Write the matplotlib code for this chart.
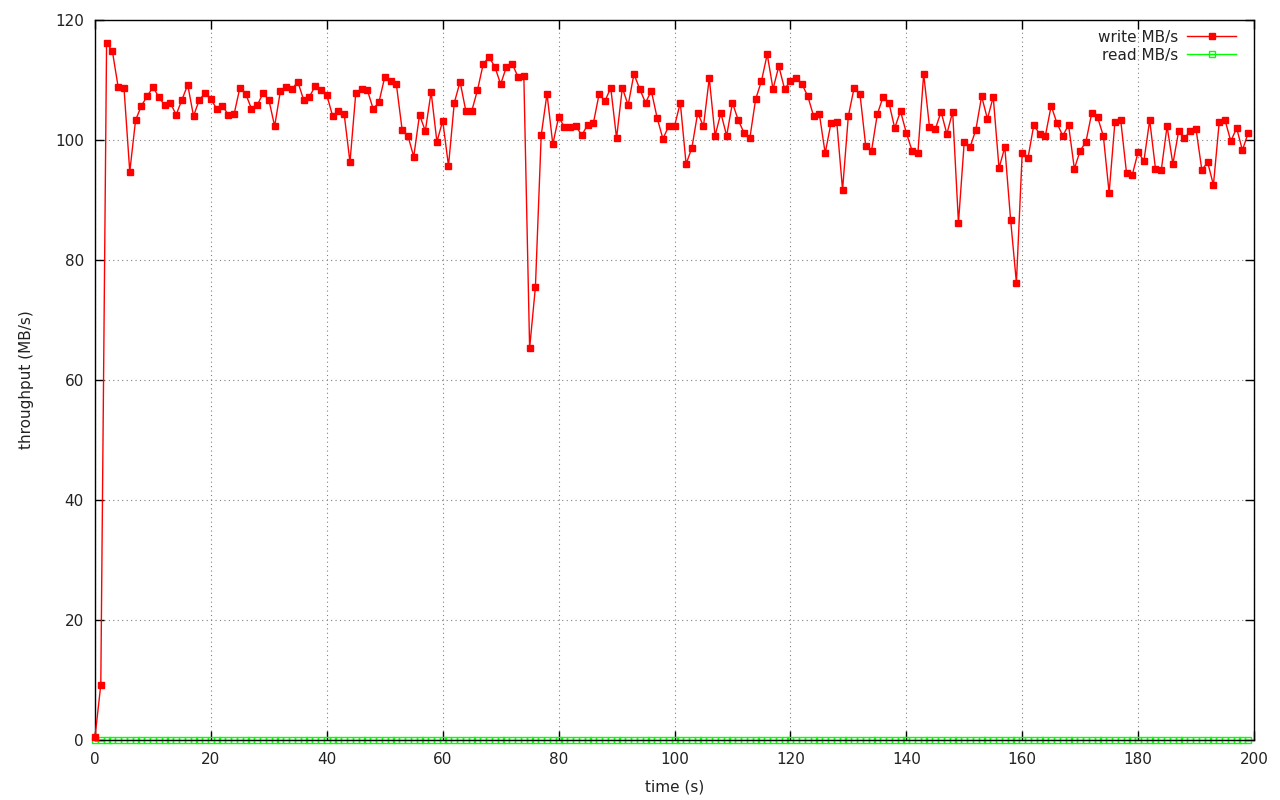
import numpy as np
import matplotlib.pyplot as plt

# throughput samples, one per second
time_s = np.arange(200)
write_mbs = [
    0.5, 9.2, 116.2, 114.8, 108.8, 108.7, 94.7, 103.3, 105.7, 107.3,
    108.8, 107.2, 105.8, 106.2, 104.2, 106.7, 109.2, 104.0, 106.7, 107.8,
    106.8, 105.2, 105.7, 104.2, 104.3, 108.7, 107.7, 105.2, 105.8, 107.8,
    106.7, 102.3, 108.2, 108.8, 108.5, 109.7, 106.7, 107.2, 109.0, 108.3,
    107.5, 104.0, 104.8, 104.3, 96.3, 107.8, 108.5, 108.3, 105.2, 106.3,
    110.5, 109.8, 109.3, 101.7, 100.7, 97.2, 104.2, 101.5, 108.0, 99.7,
    103.2, 95.7, 106.2, 109.7, 104.8, 104.8, 108.3, 112.7, 113.8, 112.2,
    109.3, 112.2, 112.7, 110.5, 110.7, 65.3, 75.5, 100.8, 107.7, 99.3,
    103.8, 102.2, 102.2, 102.3, 100.8, 102.5, 102.8, 107.7, 106.5, 108.7,
    100.3, 108.7, 105.8, 111.0, 108.5, 106.2, 108.2, 103.7, 100.2, 102.3,
    102.3, 106.2, 96.0, 98.7, 104.5, 102.3, 110.3, 100.7, 104.5, 100.7,
    106.2, 103.3, 101.2, 100.3, 106.8, 109.8, 114.3, 108.5, 112.3, 108.5,
    109.8, 110.3, 109.3, 107.3, 104.0, 104.3, 97.8, 102.8, 103.0, 91.7,
    104.0, 108.7, 107.7, 99.0, 98.2, 104.3, 107.2, 106.2, 102.0, 104.8,
    101.2, 98.2, 97.8, 111.0, 102.2, 101.8, 104.7, 101.0, 104.7, 86.2,
    99.7, 98.8, 101.7, 107.3, 103.5, 107.2, 95.3, 98.8, 86.7, 76.2,
    97.8, 97.0, 102.5, 101.0, 100.7, 105.7, 102.8, 100.7, 102.5, 95.2,
    98.2, 99.7, 104.5, 103.8, 100.7, 91.2, 103.0, 103.3, 94.5, 94.2,
    98.0, 96.5, 103.3, 95.2, 95.0, 102.3, 96.0, 101.5, 100.3, 101.5,
    101.8, 95.0, 96.3, 92.5, 103.0, 103.3, 99.8, 102.0, 98.3, 101.2,
]
read_mbs = [0.0] * 200

plt.rcParams['font.family'] = ['DejaVu Sans']
plt.rcParams['font.size'] = 11

fig = plt.figure(figsize=(12.8, 8), dpi=100)
ax = fig.add_axes([95 / 1280, 60 / 800, 1159 / 1280, 720 / 800])

ax.plot(time_s, write_mbs, color='#ff0000', lw=1, marker='s', ms=5,
        mfc='#ff0000', mec='#ff0000', label='write MB/s', clip_on=False,
        zorder=3)
ax.plot(time_s, read_mbs, color='#00ff00', lw=1, marker='s', ms=4.4,
        mfc='none', mec='#00ff00', mew=1, label='read MB/s', clip_on=False,
        zorder=2)

ax.set_xlim(0, 200)
ax.set_ylim(0, 120)
ax.set_xticks(np.arange(0, 201, 20))
ax.set_yticks(np.arange(0, 121, 20))
ax.tick_params(direction='in', length=6.5, width=1, top=True, right=True,
               labelsize=11, colors='black', labelcolor='#222222')
ax.tick_params(axis='x', pad=9)
ax.tick_params(axis='y', pad=8)
ax.grid(True, linestyle=(0, (1, 3)), color='#808080', lw=0.8)
for s in ax.spines.values():
    s.set_linewidth(1)

ax.set_xlabel('time (s)', fontsize=11, labelpad=8.5, color='#222222')
ax.set_ylabel('throughput (MB/s)', fontsize=11, labelpad=15, color='#222222')

leg = ax.legend(loc='upper right', bbox_to_anchor=(1 - 7 / 1159, 1 + 1 / 720),
                frameon=False, markerfirst=False, fontsize=11,
                handlelength=3.2, borderaxespad=0.3, labelspacing=0.2,
                handletextpad=0.6)
for t in leg.get_texts():
    t.set_color('#222222')

fig.savefig('out.png', dpi=100)
